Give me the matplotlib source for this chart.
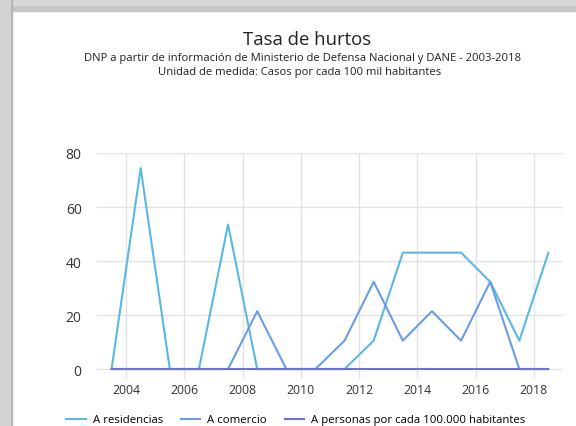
import numpy as np
import matplotlib.pyplot as plt
from matplotlib.patches import Rectangle

plt.rcParams['font.family'] = ['Open Sans', 'DejaVu Sans']

years = np.arange(2003, 2019)
residencias = [0, 74.4, 0, 0, 53.5, 0, 0, 0, 0, 10.5, 43.1, 43.1, 43.1, 32.3, 10.5, 43.1]
comercio = [0, 0, 0, 0, 0, 21.4, 0, 0, 10.5, 32.3, 10.5, 21.4, 10.5, 32.3, 0, 0]
personas = [0] * 16
labels = ['A residencias', 'A comercio', 'A personas por cada 100.000 habitantes']
colors = ['#5ab8e2', '#6a9de2', '#6b72e0']

W, H = 576, 427
fig = plt.figure(figsize=(W / 100, H / 100), dpi=100)

# gray shadow frame on top and left of the card
def band(x0, y0, w, h, c):
    fig.patches.append(Rectangle((x0 / W, 1 - (y0 + h) / H), w / W, h / H,
                                 transform=fig.transFigure, color=c, zorder=0))

band(0, 0, W, 12, '#c6c6c6')
band(0, 0, W, 6, '#d8d8d8')
band(0, 0, 12, H, '#b4b4b4')
band(0, 0, 10, H, '#d2d2d2')

ax = fig.add_axes([97 / W, 1 - 380 / H, (563 - 97) / W, (380 - 154) / H])
x = years + 0.5
for vals, lab, col in zip([residencias, comercio, personas], labels, colors):
    ax.plot(x, vals, color=col, lw=1.5, label=lab, clip_on=False, zorder=3)

ax.set_xlim(2003, 2019)
ax.set_ylim(-3.7, 80)
ax.set_yticks([0, 20, 40, 60, 80])
ax.set_xticks(np.arange(2004, 2019, 2))
ax.grid(True, color='#e2e2e2', lw=1)
ax.set_axisbelow(True)
for s in ax.spines.values():
    s.set_visible(False)
ax.tick_params(axis='y', length=0, pad=11, labelsize=10, labelcolor='#333333')
ax.tick_params(axis='x', length=0, pad=3, labelsize=8.8, labelcolor='#333333')

fig.text(307 / W, 1 - 40 / H, 'Tasa de hurtos', ha='center', va='center', fontsize=13.3, color='#222222')
fig.text(303 / W, 1 - 58 / H, 'DNP a partir de información de Ministerio de Defensa Nacional y DANE - 2003-2018',
         ha='center', va='center', fontsize=8.1, color='#222222')
fig.text(300 / W, 1 - 72 / H, 'Unidad de medida: Casos por cada 100 mil habitantes',
         ha='center', va='center', fontsize=8.1, color='#222222')

fig.legend(loc='center', bbox_to_anchor=(296 / W, 1 - 421 / H), ncol=3, frameon=False,
           fontsize=8.2, handlelength=1.7, columnspacing=1.6, handletextpad=0.6)

fig.savefig('out.png', dpi=100)
